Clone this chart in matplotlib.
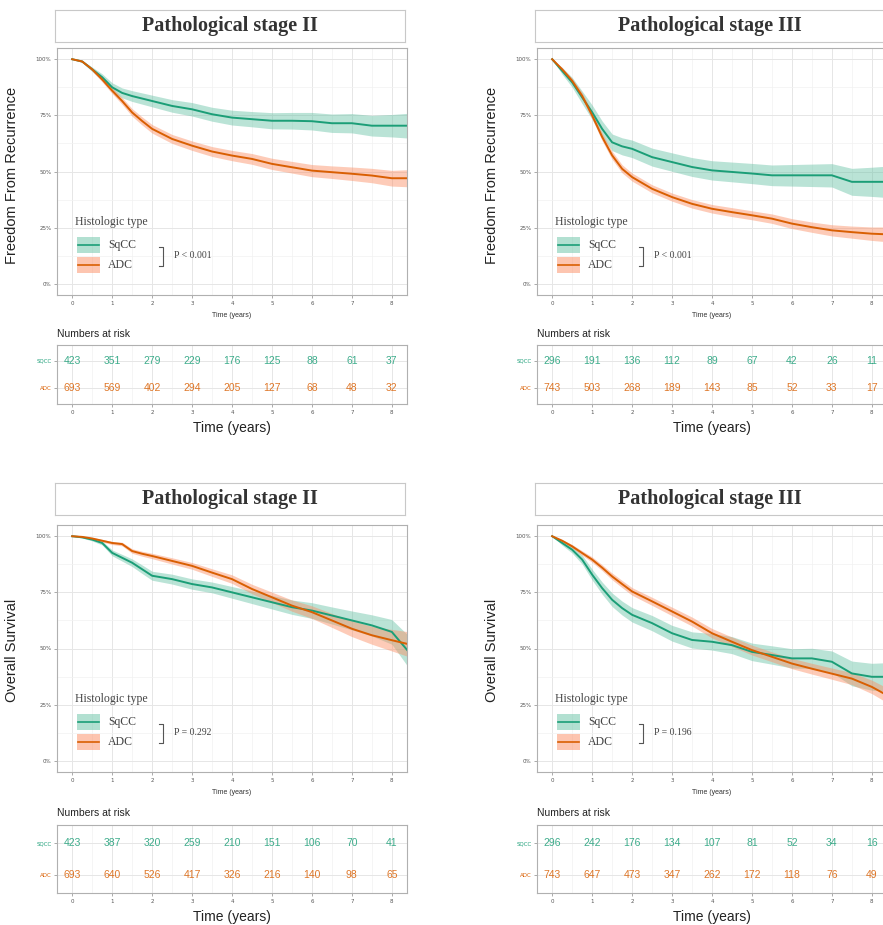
import numpy as np
import matplotlib
matplotlib.use("Agg")
import matplotlib.pyplot as plt
from matplotlib.patches import Rectangle

W, H = 883, 925

# ---- data ----
years = [0, 0.25, 0.5, 0.75, 1, 1.25, 1.5, 1.75, 2, 2.5, 3, 3.5, 4, 4.5, 5,
         5.5, 6, 6.5, 7, 7.5, 8, 8.4]

ffr2_sqcc = [100, 99, 95.5, 92, 87.5, 85, 83.6, 82.5, 81.4, 79.2, 77.7, 75.5, 74,
             73.3, 72.6, 72.6, 72.4, 71.5, 71.5, 70.4, 70.4, 70.4]
ffr2_sqcc_ci = [0, 0.5, 1, 1.5, 2, 2.2, 2.4, 2.5, 2.6, 2.8, 3, 3.1, 3.3, 3.4,
                3.6, 3.7, 3.9, 4.1, 4.3, 4.6, 5, 5.5]
ffr2_adc = [100, 99, 95.5, 91, 86, 81.4, 76.3, 72.5, 69, 64.5, 61.5, 58.9, 57.1,
            55.6, 53.4, 51.9, 50.4, 49.7, 49, 48.2, 47, 47]
ffr2_adc_ci = [0, 0.4, 0.8, 1.1, 1.3, 1.5, 1.7, 1.8, 1.9, 2, 2.1, 2.2, 2.3, 2.4,
               2.5, 2.6, 2.7, 2.8, 3, 3.2, 3.5, 3.8]

ffr3_sqcc = [100, 94.8, 89.7, 83, 76.4, 69, 63, 61.2, 60.1, 56.4, 54.2, 52, 50.5,
             49.8, 49.1, 48.3, 48.3, 48.3, 48.3, 45.4, 45.4, 45.4]
ffr3_sqcc_ci = [0, 1.5, 2.2, 2.8, 3.2, 3.5, 3.7, 3.8, 3.9, 4, 4.1, 4.2, 4.3, 4.4,
                4.5, 4.6, 4.8, 5, 5.2, 6, 6.5, 7]
ffr3_adc = [100, 95.5, 90.4, 83.7, 75, 65.4, 57.2, 51.2, 47.5, 42.3, 38.6, 35.6,
            33.4, 31.9, 30.5, 29, 26.8, 25.2, 23.8, 23, 22.3, 22]
ffr3_adc_ci = [0, 0.8, 1.1, 1.4, 1.6, 1.7, 1.8, 1.8, 1.8, 1.8, 1.8, 1.9, 1.9, 2,
               2, 2.1, 2.2, 2.3, 2.5, 2.7, 3, 3.3]

os2_sqcc = [100, 99.5, 98.5, 97, 92.6, 90.4, 88.2, 85.3, 82.4, 80.9, 78.7, 77.2,
            75, 72.8, 70.6, 68.4, 66.9, 64.7, 62.5, 60.3, 57.4, 49]
os2_sqcc_ci = [0, 0.3, 0.6, 0.9, 1.3, 1.5, 1.7, 1.9, 2, 2.2, 2.3, 2.4, 2.6, 2.8,
               3, 3.2, 3.5, 3.8, 4.2, 4.7, 5.5, 7]
os2_adc = [100, 99.7, 99, 98, 97, 96.5, 93.4, 92.2, 91.2, 89, 86.8, 83.8, 80.9,
           76.5, 72.8, 69.1, 66.2, 62.5, 58.8, 55.9, 53.7, 52]
os2_adc_ci = [0, 0.2, 0.4, 0.6, 0.7, 0.8, 1, 1.1, 1.2, 1.4, 1.5, 1.7, 1.9, 2.1,
              2.3, 2.5, 2.8, 3.1, 3.5, 4, 4.8, 5.5]

os3_sqcc = [100, 97, 94, 89.6, 82.9, 76.9, 71.7, 68, 65, 61.3, 56.8, 53.8, 53,
            51.5, 48.5, 47.1, 45.6, 45.6, 44.1, 38.9, 37.4, 37.4]
os3_sqcc_ci = [0, 1, 1.5, 2, 2.4, 2.7, 3, 3.1, 3.2, 3.4, 3.5, 3.6, 3.7, 3.8, 3.9,
               4.1, 4.3, 4.5, 4.8, 5.5, 6, 6.3]
os3_adc = [100, 98, 95.5, 92.5, 89.6, 86, 82.1, 78.7, 75.4, 71, 66.5, 62, 56.8,
           53, 49.3, 46.3, 43.3, 41, 38.8, 36.6, 32.9, 29]
os3_adc_ci = [0, 0.5, 0.8, 1, 1.2, 1.3, 1.5, 1.6, 1.7, 1.8, 1.9, 2, 2.1, 2.1,
              2.2, 2.2, 2.3, 2.4, 2.5, 2.7, 3, 3.3]

risk_years = [0, 1, 2, 3, 4, 5, 6, 7, 8]
risk_ffr2_sqcc = [423, 351, 279, 229, 176, 125, 88, 61, 37]
risk_ffr2_adc = [693, 569, 402, 294, 205, 127, 68, 48, 32]
risk_ffr3_sqcc = [296, 191, 136, 112, 89, 67, 42, 26, 11]
risk_ffr3_adc = [743, 503, 268, 189, 143, 85, 52, 33, 17]
risk_os2_sqcc = [423, 387, 320, 259, 210, 151, 106, 70, 41]
risk_os2_adc = [693, 640, 526, 417, 326, 216, 140, 98, 65]
risk_os3_sqcc = [296, 242, 176, 134, 107, 81, 52, 34, 16]
risk_os3_adc = [743, 647, 473, 347, 262, 172, 118, 76, 49]

groups = ["SqCC", "ADC"]
GREEN, ORANGE = "#1b9e77", "#d95f02"
GREEN_F, ORANGE_F = "#66c2a5", "#fc8d62"
SERIF = "Liberation Serif"
SANS = "Liberation Sans"


def fbox(x0, y0, x1, y1):
    return [x0 / W, 1 - y1 / H, (x1 - x0) / W, (y1 - y0) / H]


def style_grid(ax):
    ax.set_facecolor("white")
    for s in ax.spines.values():
        s.set_color("#b0b0b0")
        s.set_linewidth(0.8)
    ax.grid(True, which="major", color="#e6e6e6", lw=0.7)
    ax.grid(True, which="minor", color="#f2f2f2", lw=0.5)
    ax.set_axisbelow(True)
    ax.tick_params(which="major", length=2, width=0.5, color="#888888",
                   labelsize=4, labelcolor="#555555", pad=2)
    ax.tick_params(which="minor", length=0)


def panel(fig, x0, rows, title, ylabel, curves, risks, pval):
    strip_y, km_y, risk_y, tsmall, nrisk, tbig, ylab_y = rows
    x1 = x0 + 350

    # strip title
    sax = fig.add_axes(fbox(x0 - 2, strip_y[0], x1 - 2, strip_y[1]))
    sax.set_xticks([]); sax.set_yticks([])
    for s in sax.spines.values():
        s.set_color("#c8c8c8"); s.set_linewidth(0.8)
    sax.text(0.5, 0.5, title, ha="center", va="center", fontsize=14.5,
             family=SERIF, weight="bold", color="#333333")

    # KM plot
    ax = fig.add_axes(fbox(x0, km_y[0], x1, km_y[1]))
    style_grid(ax)
    for (surv, ci), col, fcol in zip(curves, [GREEN, ORANGE], [GREEN_F, ORANGE_F]):
        s = np.array(surv); c = np.array(ci)
        ax.fill_between(years, s - c, s + c, color=fcol, alpha=0.45, lw=0)
        ax.plot(years, s, color=col, lw=1.4)
    ax.set_xlim(-0.38, 8.38)
    ax.set_ylim(-5, 105)
    ax.set_xticks(range(9))
    ax.set_xticks(np.arange(0.5, 8.5, 1), minor=True)
    ax.set_yticks([0, 25, 50, 75, 100])
    ax.set_yticklabels(["0%", "25%", "50%", "75%", "100%"])
    ax.set_yticks([12.5, 37.5, 62.5, 87.5], minor=True)

    # legend
    ax.text(0.051, 0.296, "Histologic type", transform=ax.transAxes, fontsize=8.5,
            family=SERIF, color="#444444", va="center")
    for yc, lab, col, fcol in [(0.202, "SqCC", GREEN, GREEN_F),
                               (0.121, "ADC", ORANGE, ORANGE_F)]:
        ax.add_patch(Rectangle((0.057, yc - 0.032), 0.066, 0.064,
                               transform=ax.transAxes, color=fcol, alpha=0.5, lw=0))
        ax.plot([0.06, 0.12], [yc, yc], transform=ax.transAxes, color=col, lw=1.2)
        ax.text(0.146, yc, lab, transform=ax.transAxes, fontsize=8.5, family=SERIF,
                color="#444444", va="center")
    ax.plot([0.292, 0.302, 0.302, 0.292], [0.194, 0.194, 0.117, 0.117],
            transform=ax.transAxes, color="#555555", lw=0.8)
    ax.text(0.335, 0.158, pval, transform=ax.transAxes, fontsize=7, family=SERIF,
            color="#444444", va="center")

    fig.text((x0 + 175) / W, 1 - tsmall / H, "Time (years)", ha="center",
             va="center", fontsize=5, family=SANS, color="#333333")
    fig.text((x0 - 45) / W, 1 - ylab_y / H, ylabel, ha="center", va="center",
             rotation=90, fontsize=10.5, family=SANS, color="#222222")

    # risk table
    fig.text(x0 / W, 1 - nrisk / H, "Numbers at risk", ha="left", va="center",
             fontsize=7.5, family=SANS, color="#222222")
    rax = fig.add_axes(fbox(x0, risk_y[0], x1, risk_y[1]))
    style_grid(rax)
    for yv, vals, col in [(2, risks[0], GREEN), (1, risks[1], ORANGE)]:
        for t, v in zip(risk_years, vals):
            rax.text(t, yv, str(v), ha="center", va="center", fontsize=7.5,
                     family=SANS, color=col, alpha=0.85)
    rax.set_xlim(-0.38, 8.38)
    rax.set_ylim(0.42, 2.58)
    rax.set_xticks(range(9))
    rax.set_xticks(np.arange(0.5, 8.5, 1), minor=True)
    rax.set_yticks([1, 2])
    rax.set_yticklabels(["ADC", "SQCC"])
    for tl, col in zip(rax.get_yticklabels(), [ORANGE, GREEN]):
        tl.set_color(col)
    fig.text((x0 + 175) / W, 1 - tbig / H, "Time (years)", ha="center",
             va="center", fontsize=10, family=SANS, color="#222222")
    return ax


fig = plt.figure(figsize=(W / 100, H / 100), dpi=100)
fig.patch.set_facecolor("white")

top = ((10, 42), (48, 295), (345, 404), 315, 334, 428, 175)
bot = ((483, 515), (525, 772), (825, 893), 792, 813, 917, 650)

panel(fig, 57, top, "Pathological stage II", "Freedom From Recurrence",
      [(ffr2_sqcc, ffr2_sqcc_ci), (ffr2_adc, ffr2_adc_ci)],
      (risk_ffr2_sqcc, risk_ffr2_adc), "P < 0.001")
panel(fig, 537, top, "Pathological stage III", "Freedom From Recurrence",
      [(ffr3_sqcc, ffr3_sqcc_ci), (ffr3_adc, ffr3_adc_ci)],
      (risk_ffr3_sqcc, risk_ffr3_adc), "P < 0.001")
panel(fig, 57, bot, "Pathological stage II", "Overall Survival",
      [(os2_sqcc, os2_sqcc_ci), (os2_adc, os2_adc_ci)],
      (risk_os2_sqcc, risk_os2_adc), "P = 0.292")
panel(fig, 537, bot, "Pathological stage III", "Overall Survival",
      [(os3_sqcc, os3_sqcc_ci), (os3_adc, os3_adc_ci)],
      (risk_os3_sqcc, risk_os3_adc), "P = 0.196")

fig.savefig("out.png", dpi=100)
